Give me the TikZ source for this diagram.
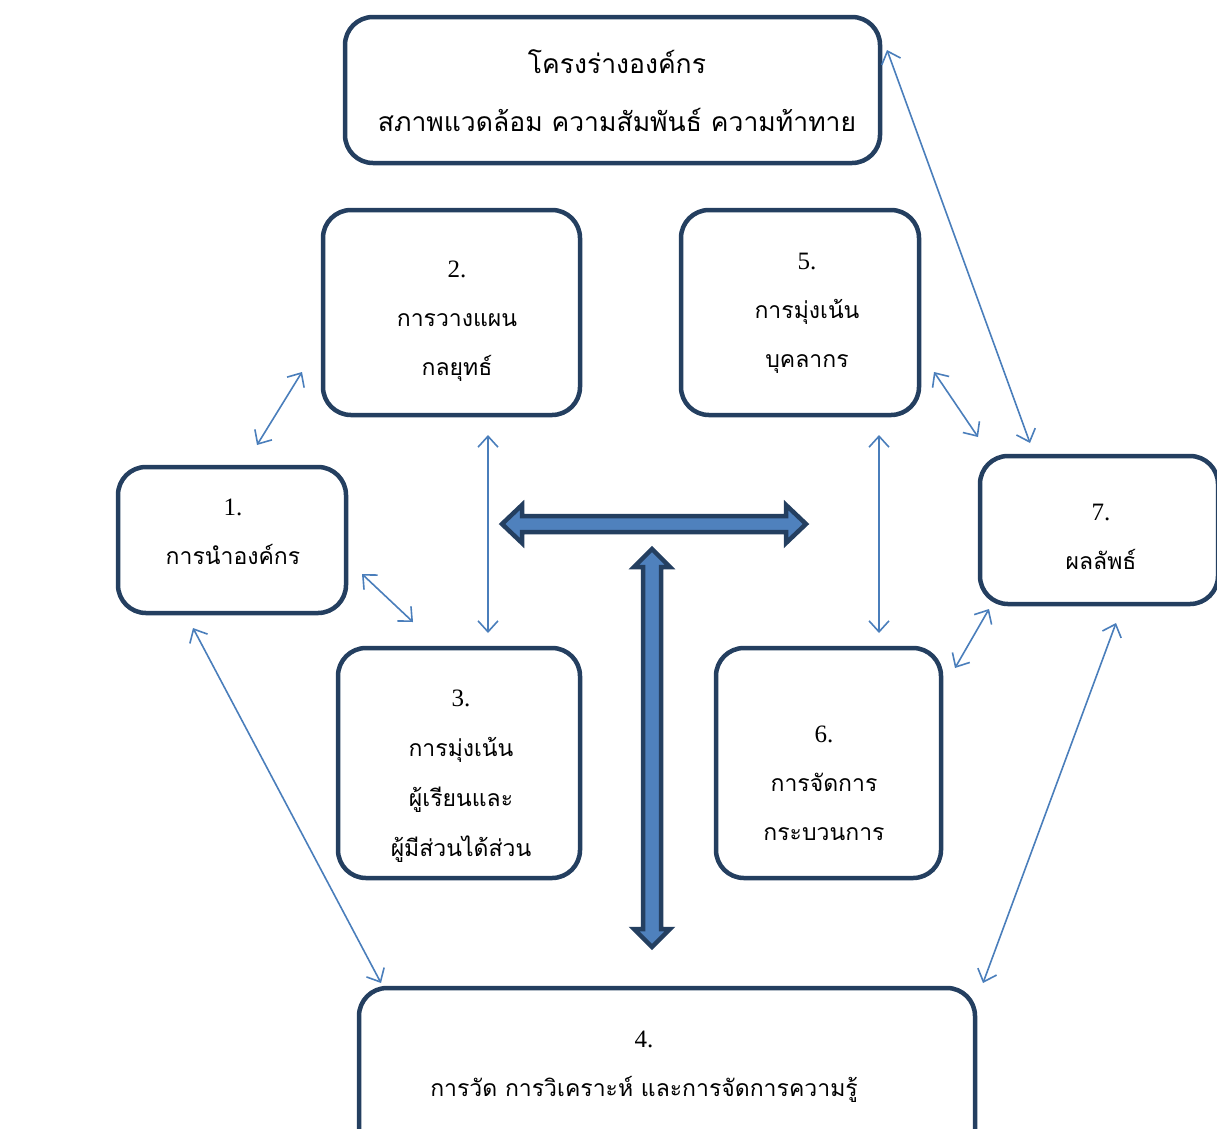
\documentclass[tikz,border=0pt]{standalone}
\usepackage{fontspec}
\newfontfamily\thaifont[Script=Thai]{Loma}
\newfontfamily\numfont{Liberation Serif}
\usetikzlibrary{arrows.meta}
\definecolor{boxline}{HTML}{243F60}
\definecolor{thinblue}{HTML}{4A7EBB}
\definecolor{bigfill}{HTML}{4F81BD}
\tikzset{
  box/.style={draw=boxline, line width=4.5pt, rounded corners=28pt, fill=white, inner sep=0pt},
  txt/.style={align=center, inner sep=0pt, font=\thaifont\fontsize{23}{49}\selectfont},
  bigtxt/.style={align=center, inner sep=0pt, font=\thaifont\fontsize{26.5}{58}\selectfont},
  thinarr/.style={draw=thinblue, line width=1.6pt, {Straight Barb[length=11pt,width=20pt]}-{Straight Barb[length=11pt,width=20pt]}},
  bigarrow/.style={draw=boxline, line width=4.5pt, fill=bigfill, line join=miter}
}
\newcommand{\numtxt}[1]{{\numfont\fontsize{25}{49}\selectfont #1}}
\begin{document}
\begin{tikzpicture}[x=1pt,y=-1pt]
\useasboundingbox (0,0) rectangle (1217,1128);
\clip (0,0) rectangle (1217,1128);
% boxes
\node[box, minimum width=535pt, minimum height=146pt] (b0) at (612.5,90) {};
\node[box, minimum width=257pt, minimum height=205pt] (b2) at (451.5,312.5) {};
\node[box, minimum width=238pt, minimum height=205pt] (b5) at (800,312.5) {};
\node[box, minimum width=228pt, minimum height=146pt] (b1) at (232,540) {};
\node[box, minimum width=238pt, minimum height=148pt] (b7) at (1099,530) {};
\node[box, minimum width=242pt, minimum height=230pt] (b3) at (459,763) {};
\node[box, minimum width=225pt, minimum height=230pt] (b6) at (828.5,763) {};
\node[box, minimum width=616pt, minimum height=190pt] (b4) at (667,1083) {};
% texts
\node[bigtxt] (t0) at (617,91) {โครงร่างองค์กร\\สภาพแวดล้อม ความสัมพันธ์ ความท้าทาย};
\node[txt] (t2) at (457,321) {\numtxt{2.}\\การวางแผน\\กลยุทธ์};
\node[txt] (t5) at (807,313) {\numtxt{5.}\\การมุ่งเน้น\\บุคลากร};
\node[txt] (t1) at (233,532) {\numtxt{1.}\\การนำองค์กร};
\node[txt] (t7) at (1101,537) {\numtxt{7.}\\ผลลัพธ์};
\node[txt, font=\thaifont\fontsize{23}{50}\selectfont] (t3) at (461,776) {\numtxt{3.}\\การมุ่งเน้น\\ผู้เรียนและ\\ผู้มีส่วนได้ส่วน};
\node[txt] (t6) at (824,783) {\numtxt{6.}\\การจัดการ\\กระบวนการ};
\node[txt] (t4) at (644,1067) {\numtxt{4.}\\การวัด การวิเคราะห์ และการจัดการความรู้};
% connector end points
\coordinate (p12a) at (257,445); \coordinate (p12b) at (302,372);
\coordinate (p13a) at (362,574); \coordinate (p13b) at (413,622);
\coordinate (p23a) at (488,435); \coordinate (p23b) at (488,633);
\coordinate (p56a) at (879,435); \coordinate (p56b) at (879,633);
\coordinate (p57a) at (934,372); \coordinate (p57b) at (978,437);
\coordinate (p67a) at (955,668); \coordinate (p67b) at (989,609);
\coordinate (p07a) at (887,50);  \coordinate (p07b) at (1030,443);
\coordinate (p14a) at (193,628); \coordinate (p14b) at (381,983);
\coordinate (p74a) at (1116,623); \coordinate (p74b) at (983,983);
\draw[thinarr] (p12a) -- (p12b);
\draw[thinarr] (p13a) -- (p13b);
\draw[thinarr] (p23a) -- (p23b);
\draw[thinarr] (p56a) -- (p56b);
\draw[thinarr] (p57a) -- (p57b);
\draw[thinarr] (p67a) -- (p67b);
\draw[thinarr] (p07a) -- (p07b);
\draw[thinarr] (p14a) -- (p14b);
\draw[thinarr] (p74a) -- (p74b);
% big arrows
\draw[bigarrow] (502,524) -- (522,505) -- (522,516) -- (786,516) -- (786,505) -- (806,524)
  -- (786,543) -- (786,532) -- (522,532) -- (522,543) -- cycle;
\draw[bigarrow] (652,549) -- (670,567) -- (661,567) -- (661,929) -- (670,929) -- (652,947)
  -- (634,929) -- (643,929) -- (643,567) -- (634,567) -- cycle;
\end{tikzpicture}
\end{document}
